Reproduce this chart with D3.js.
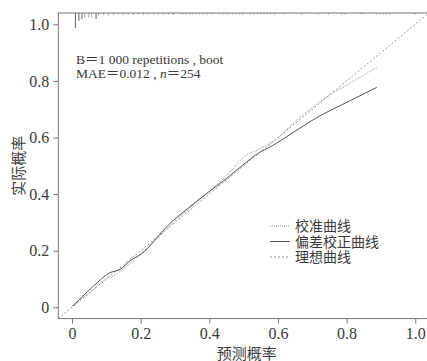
<!DOCTYPE html>
<html lang="zh">
<head>
<meta charset="UTF-8">
<title>Calibration curve</title>
<script src="https://d3js.org/d3.v7.min.js"></script>
<style>
    body { margin: 0; background: #fff; }
    text { font-family: "Liberation Serif", "Noto Sans CJK SC", serif; fill: #3a3a3a; }
    .axis path, .axis line { stroke: #777; }
    .axis text { font-size: 16px; }
</style>
</head>
<body>
<script>
// apparent (校准曲线)
const appX = [0, 0.05, 0.10, 0.13, 0.17, 0.20, 0.25, 0.30, 0.35, 0.40, 0.45, 0.50, 0.55, 0.60, 0.66, 0.73, 0.80, 0.8875];
const appY = [0.005, 0.052, 0.100, 0.118, 0.156, 0.188, 0.245, 0.305, 0.358, 0.41, 0.465, 0.53, 0.562, 0.60, 0.668, 0.733, 0.785, 0.847];
// bias corrected (偏差校正曲线)
const corX = [0.003, 0.06, 0.11, 0.14, 0.17, 0.21, 0.25, 0.28, 0.33, 0.39, 0.45, 0.51, 0.55, 0.57, 0.66, 0.71, 0.81, 0.8875];
const corY = [0.005, 0.072, 0.122, 0.134, 0.165, 0.196, 0.25, 0.29, 0.342, 0.40, 0.455, 0.515, 0.55, 0.562, 0.63, 0.668, 0.73, 0.777];
// rug of predicted probabilities (spike heights)
const rugX = [0.010, 0.020, 0.029, 0.037, 0.049, 0.057, 0.070, 0.077, 0.091, 0.106, 0.120, 0.135, 0.149, 0.164, 0.179,
    0.193, 0.208, 0.222, 0.237, 0.251, 0.266, 0.281, 0.295, 0.315, 0.322, 0.332, 0.342, 0.350, 0.361, 0.371, 0.382,
    0.394, 0.407, 0.429, 0.439, 0.449, 0.456, 0.468, 0.478, 0.487, 0.497, 0.518, 0.528, 0.540, 0.550, 0.559, 0.569,
    0.579, 0.590, 0.618, 0.669, 0.717, 0.747, 0.786, 0.795, 0.844, 0.888, 0.897, 0.907, 0.917, 0.926, 0.999];
const rugH = [30, 16, 12, 10, 9, 8, 12, 5, 4, 5, 4, 3, 4, 3, 4,
    3, 4, 3, 3, 3, 3, 3, 4, 3, 3, 3, 3, 3, 3, 3, 3,
    3, 3, 3, 3, 3, 3, 3, 3, 3, 3, 3, 3, 3, 3, 3, 3,
    3, 3, 3, 3, 3, 3, 3, 3, 3, 3, 3, 3, 3, 3, 3];
const ticks = [0, 0.2, 0.4, 0.6, 0.8, 1.0];
const tickLabels = ["0", "0.2", "0.4", "0.6", "0.8", "1.0"];
const legendNames = ["校准曲线", "偏差校正曲线", "理想曲线"];

const W = 427, H = 361;
const svg = d3.select("body").append("svg").attr("width", W).attr("height", H);

const x = d3.scaleLinear().domain([-0.04, 1.04]).range([58.3, 429]);
const y = d3.scaleLinear().domain([-0.04, 1.04]).range([318.6, 13]);

const styles = [
    {stroke: "#999", dash: "1,1", width: 1},
    {stroke: "#555", dash: null, width: 1},
    {stroke: "#888", dash: "2,2", width: 0.9}
];

// clip to the plotting frame
svg.append("clipPath").attr("id", "clip").append("rect")
    .attr("x", x(-0.04)).attr("y", y(1.04))
    .attr("width", x(1.04) - x(-0.04)).attr("height", y(-0.04) - y(1.04));

const plot = svg.append("g").attr("clip-path", "url(#clip)");

// ideal line
plot.append("line")
    .attr("x1", x(-0.04)).attr("y1", y(-0.04))
    .attr("x2", x(1.04)).attr("y2", y(1.04))
    .attr("stroke", styles[2].stroke).attr("stroke-dasharray", styles[2].dash)
    .attr("stroke-width", styles[2].width);

const line = d3.line().x(d => x(d[0])).y(d => y(d[1])).curve(d3.curveMonotoneX);

plot.append("path")
    .datum(appX.map((v, i) => [v, appY[i]]))
    .attr("d", line).attr("fill", "none")
    .attr("stroke", styles[0].stroke).attr("stroke-dasharray", styles[0].dash)
    .attr("stroke-width", styles[0].width);

plot.append("path")
    .datum(corX.map((v, i) => [v, corY[i]]))
    .attr("d", line).attr("fill", "none")
    .attr("stroke", styles[1].stroke).attr("stroke-width", styles[1].width);

// rug spikes hanging from the top
const rugLen = d3.scaleLinear().domain([0, 30]).range([0, 15]);
plot.selectAll(".rug").data(rugX).enter().append("line")
    .attr("x1", d => x(d)).attr("x2", d => x(d))
    .attr("y1", y(1.04)).attr("y2", (d, i) => y(1.04) + rugLen(rugH[i]))
    .attr("stroke", (d, i) => rugH[i] > 10 ? "#666" : "#aaa").attr("stroke-width", 1);

// frame
svg.append("rect")
    .attr("x", x(-0.04)).attr("y", y(1.04))
    .attr("width", x(1.04) - x(-0.04)).attr("height", y(-0.04) - y(1.04))
    .attr("fill", "none").attr("stroke", "#777");

// axes
svg.append("g").attr("class", "axis")
    .attr("transform", `translate(0,${y(-0.04)})`)
    .call(d3.axisBottom(x).tickValues(ticks).tickFormat((d, i) => tickLabels[i]).tickSize(5).tickPadding(4))
    .call(g => g.select(".domain").remove())
    .attr("font-family", null).attr("font-size", null);

svg.append("g").attr("class", "axis")
    .attr("transform", `translate(${x(-0.04)},0)`)
    .call(d3.axisLeft(y).tickValues(ticks).tickFormat((d, i) => tickLabels[i]).tickSize(5).tickPadding(4))
    .call(g => g.select(".domain").remove())
    .attr("font-family", null).attr("font-size", null);

// axis titles
svg.append("text").attr("x", (x(0) + x(1)) / 2 + 3).attr("y", 359)
    .attr("text-anchor", "middle").attr("font-size", 15).text("预测概率");
svg.append("text").attr("transform", `translate(24,${y(0.5)}) rotate(-90)`)
    .attr("text-anchor", "middle").attr("font-size", 15).text("实际概率");

// annotation
const ann = svg.append("text").attr("x", 76).attr("y", 64).attr("font-size", 13.5);
ann.append("tspan").text("B＝1 000 repetitions , boot");
const ann2 = svg.append("text").attr("x", 76).attr("y", 78).attr("font-size", 13.5);
ann2.append("tspan").text("MAE＝0.012 , ");
ann2.append("tspan").attr("font-style", "italic").text("n");
ann2.append("tspan").text("＝254");

// legend
const lg = svg.append("g").attr("transform", "translate(270,226)");
legendNames.forEach((name, i) => {
    const row = lg.append("g").attr("transform", `translate(0,${i * 15.5})`);
    row.append("line").attr("x1", 0).attr("x2", 20).attr("y1", 0).attr("y2", 0)
        .attr("stroke", styles[i].stroke).attr("stroke-width", styles[i].width)
        .attr("stroke-dasharray", styles[i].dash);
    row.append("text").attr("x", 25).attr("y", 5).attr("font-size", 14).text(name);
});
</script>
</body>
</html>
